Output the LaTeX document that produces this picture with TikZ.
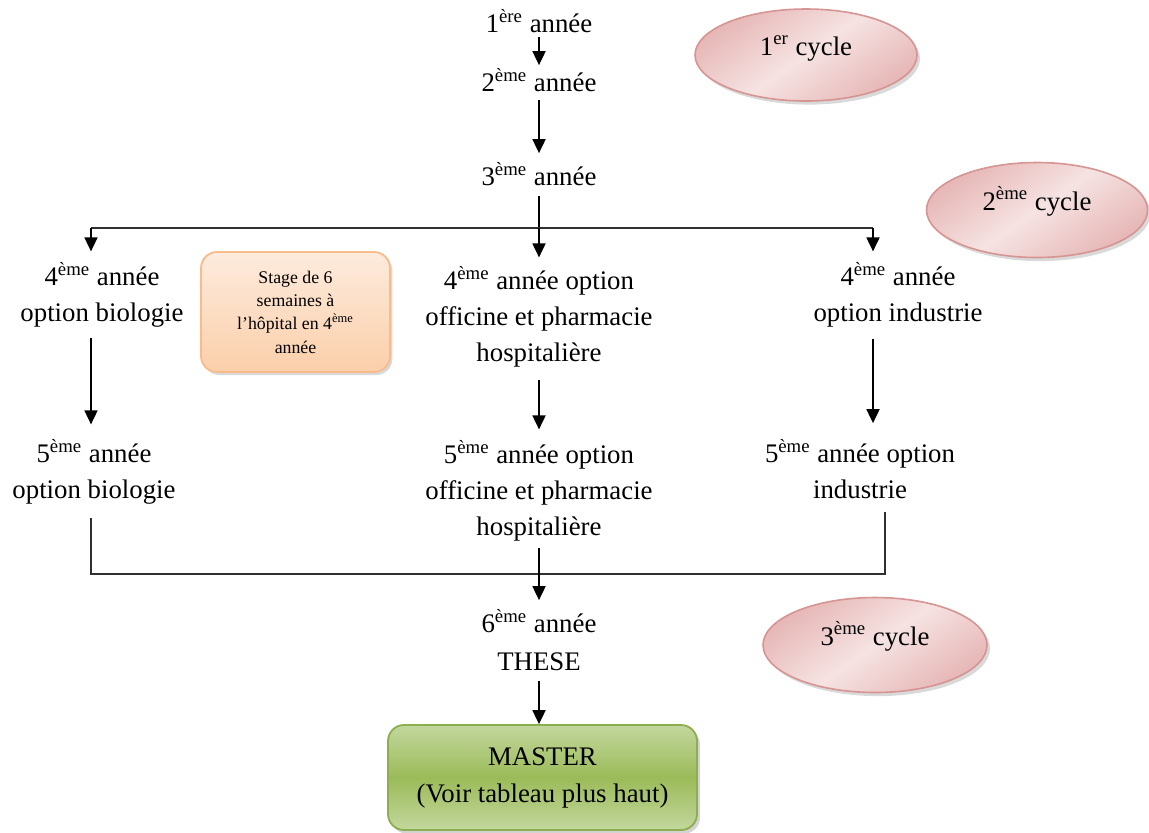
\documentclass[tikz,border=0pt]{standalone}
\usepackage{fontspec}
\setmainfont{Liberation Serif}
\usetikzlibrary{arrows.meta,shadows,calc,shapes.geometric}
\definecolor{ellborder}{HTML}{D69492}
\definecolor{ellfillA}{HTML}{E6B7B6}
\definecolor{ellfillB}{HTML}{F5E3E2}
\definecolor{stgborder}{HTML}{F8BC8C}
\definecolor{stgtop}{HTML}{FDEBDD}
\definecolor{stgbot}{HTML}{FBCFAA}
\definecolor{mstborder}{HTML}{8DAE4E}
\definecolor{msttop}{HTML}{C3D79D}
\definecolor{mstmid}{HTML}{9BBB59}
\definecolor{hline}{HTML}{303030}
\begin{document}
\begin{tikzpicture}[x=0.5pt,y=-0.5pt,
  txt/.style={inner sep=0pt, outer sep=0pt, align=center,
    font=\fontsize{13.4}{18}\selectfont},
  ln/.style={line width=0.9pt, black},
  hl/.style={line width=0.8pt, hline},
  arr/.style={line width=0.9pt, black, -{Triangle[width=6.5pt,length=7pt]}},
  cyc/.style={ellipse, draw=ellborder, line width=0.8pt,
    shading=axis, top color=ellfillA, bottom color=ellfillA, middle color=ellfillB,
    shading angle=35, text height=10pt, text depth=10pt, inner sep=0pt,
    font=\fontsize{13.4}{18}\selectfont,
    drop shadow={shadow xshift=1.5pt, shadow yshift=-1.8pt, opacity=0.3, fill=gray}},
  stagebox/.style={rectangle, rounded corners=8pt, draw=stgborder, line width=0.9pt,
    top color=stgtop, bottom color=stgbot, align=center, inner sep=0pt,
    minimum width=94.5pt, minimum height=60pt,
    font=\fontsize{8.9}{11.65}\selectfont,
    drop shadow={shadow xshift=1.2pt, shadow yshift=-1.5pt, opacity=0.3, fill=gray}},
  masterbox/.style={rectangle, rounded corners=8pt, draw=mstborder, line width=0.9pt,
    top color=msttop, bottom color=msttop, middle color=mstmid, align=center, inner sep=0pt,
    minimum width=154.5pt, minimum height=52.5pt,
    font=\fontsize{13.4}{18.5}\selectfont,
    drop shadow={shadow xshift=1.5pt, shadow yshift=-1.8pt, opacity=0.35, fill=gray}}
]
\useasboundingbox (0,0) rectangle (1149,832);

% cycle ellipses
\node[cyc, minimum width=111pt, minimum height=46pt] (c1) at (806,55) {1\textsuperscript{er} cycle};
\node[cyc, minimum width=110.5pt, minimum height=47.5pt] (c2) at (1037,210) {2\textsuperscript{ème} cycle};
\node[cyc, minimum width=112pt, minimum height=47.5pt] (c3) at (875,645) {3\textsuperscript{ème} cycle};

% year texts
\node[txt] (y1) at (539,21) {1\textsuperscript{ère} année};
\node[txt] (y2) at (539,80) {2\textsuperscript{ème} année};
\node[txt] (y3) at (539,174) {3\textsuperscript{ème} année};
\node[txt] (bio4) at (102,295) {4\textsuperscript{ème} année\\option biologie};
\node[txt] (off4) at (539,317) {4\textsuperscript{ème} année option\\officine et pharmacie\\hospitalière};
\node[txt] (ind4) at (898,295) {4\textsuperscript{ème} année\\option industrie};
\node[txt] (bio5) at (94,472) {5\textsuperscript{ème} année\\option biologie};
\node[txt] (off5) at (539,491) {5\textsuperscript{ème} année option\\officine et pharmacie\\hospitalière};
\node[txt] (ind5) at (860,469) {5\textsuperscript{ème} année option\\industrie};
\node[txt, font=\fontsize{13.4}{19}\selectfont] (th) at (539,640) {6\textsuperscript{ème} année\\THESE};

% boxes
\node[stagebox] (stage) at (295.5,312) {Stage de 6\\semaines à\\l’hôpital en 4\textsuperscript{ème}\\année};
\node[masterbox] (master) at (542.5,777.5) {MASTER\\(Voir tableau plus haut)};

% junctions
\coordinate (jT) at (539,228);
\coordinate (jL) at (91,228);
\coordinate (jR) at (873,228);
\coordinate (jBL) at (91,574);
\coordinate (jBR) at (885,574);

% connectors
\draw[arr, shorten <=2pt, shorten >=1.5pt] (y1.south) -- (y2.north);
\draw[arr, shorten <=4pt, shorten >=4.5pt] (y2.south) -- (y3.north);
\draw[ln, shorten <=5pt] (y3.south) -- (jT);
\draw[hl] (jL) -- (jR);
\draw[arr, shorten >=5.5pt] (jL) -- (bio4.north -| jL);
\draw[arr, shorten >=4.5pt] (jT) -- (off4.north);
\draw[arr, shorten >=5.5pt] (jR) -- (ind4.north -| jR);

\draw[arr, shorten <=5pt, shorten >=7.5pt] (bio4.south -| jL) -- (bio5.north -| jL);
\draw[arr, shorten <=6pt, shorten >=5.5pt] (off4.south) -- (off5.north);
\draw[arr, shorten <=5.5pt, shorten >=8pt] (ind4.south -| jR) -- (ind5.north -| jR);

\draw[hl, shorten <=6.5pt, shorten >=6.5pt] (bio5.south -| jBL) -- (jBL) -- (jBR) -- (ind5.south -| jBR);
\draw[arr, shorten <=3pt, shorten >=4.5pt] (off5.south) -- (th.north);
\draw[arr, shorten <=5pt] (th.south) -- (th.south |- master.north);
\end{tikzpicture}
\end{document}
